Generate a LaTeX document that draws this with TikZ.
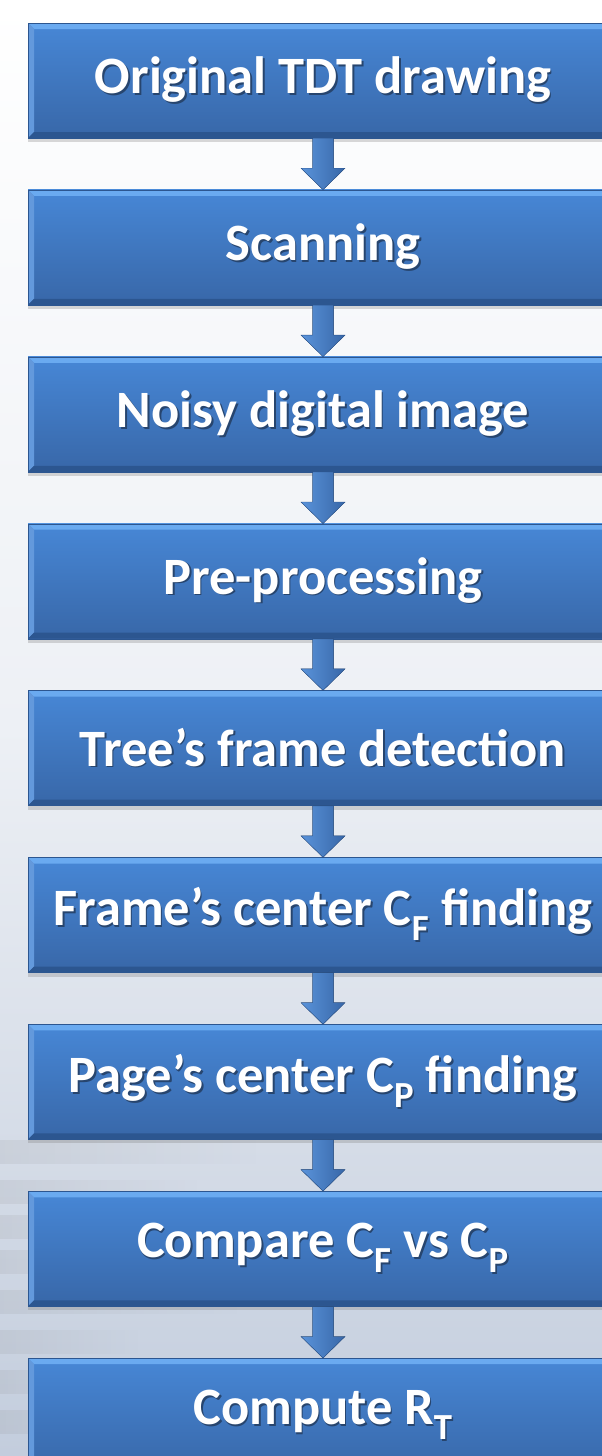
\documentclass[tikz,border=0pt]{standalone}
\usepackage{fontspec}
\setmainfont{Carlito}
\usepackage{tikz}
\usetikzlibrary{
    calc,
    positioning,
    shadows,
    fadings
}

\definecolor{boxtop}{HTML}{4787D6}
\definecolor{boxbot}{HTML}{3867A8}
\definecolor{bevlight}{HTML}{6AAAF0}
\definecolor{bevdark}{HTML}{2C5690}
\definecolor{bgbot}{HTML}{C3CDDD}
\definecolor{txtshadow}{HTML}{27456E}

\newcommand\shadowed[1]{\leavevmode\rlap{\kern1.6pt\raisebox{-1.6pt}{\textcolor{txtshadow}{#1}}}#1}
\newcommand\flowarrow[2]{%
    \fill[arrowfill]
    ([xshift=-10.5pt]#1.south) -- ([xshift=-10.5pt,yshift=-30pt]#1.south)
    -- ([xshift=-22pt,yshift=-30pt]#1.south) -- (#2.north)
    -- ([xshift=22pt,yshift=-30pt]#1.south) -- ([xshift=10.5pt,yshift=-30pt]#1.south)
    -- ([xshift=10.5pt]#1.south) -- cycle;
}

\tikzset{
    stepbox/.style={
        rectangle, minimum width=590pt, minimum height=115pt, inner sep=0pt,
        top color=boxtop, bottom color=boxbot, draw=bevdark, line width=0.4pt,
        text=white, font=\fontsize{52.5}{60}\selectfont\bfseries,
        drop shadow={shadow xshift=0pt, shadow yshift=-4pt, opacity=0.3},
        path picture={
            \fill[bevlight] (path picture bounding box.north west)
            -- (path picture bounding box.north east)
            -- ([xshift=-6pt,yshift=-6pt]path picture bounding box.north east)
            -- ([xshift=6pt,yshift=-6pt]path picture bounding box.north west) -- cycle;
            \fill[boxtop!85!white] (path picture bounding box.north west)
            -- ([xshift=6pt,yshift=-6pt]path picture bounding box.north west)
            -- ([xshift=6pt,yshift=6pt]path picture bounding box.south west)
            -- (path picture bounding box.south west) -- cycle;
            \fill[bevdark] (path picture bounding box.south west)
            -- ([xshift=6pt,yshift=6pt]path picture bounding box.south west)
            -- ([xshift=-6pt,yshift=6pt]path picture bounding box.south east)
            -- (path picture bounding box.south east) -- cycle;
        }
    },
    arrowfill/.style={
        left color=boxtop!90!white, right color=boxbot, draw=bevdark, line width=0.4pt
    },
    streak/.style={fill=black!50, opacity=0.12, path fading=east}
}

\begin{document}
\begin{tikzpicture}[x=1pt, y=-1pt]
    % background
    \useasboundingbox (0, 0) rectangle (602, 1456);
    \shade[top color=white, bottom color=bgbot, middle color=white!70!bgbot]
    (0, 0) rectangle (602, 1456);
    \begin{scope}
        \clip (0, 0) rectangle (602, 1456);
        \foreach \y/\w in {1140/260, 1180/200, 1215/150, 1250/110, 1290/240, 1330/140, 1370/90, 1410/120} {
            \fill[streak] (0, \y) rectangle (\w, \y + 24);
        }

        % steps
        \node[stepbox] (orig) at (323, 80.5) {\shadowed{Original TDT drawing}};
        \node[stepbox, below=51.5pt of orig] (scan) {\shadowed{Scanning}};
        \node[stepbox, below=51.5pt of scan] (noisy) {\shadowed{Noisy digital image}};
        \node[stepbox, below=51.5pt of noisy] (pre) {\shadowed{Pre-processing}};
        \node[stepbox, below=51.5pt of pre] (frame) {\shadowed{Tree’s frame detection}};
        \node[stepbox, below=51.5pt of frame] (cf) {\shadowed{Frame’s center C\textsubscript{F} finding}};
        \node[stepbox, below=51.5pt of cf] (cp) {\shadowed{Page’s center C\textsubscript{P} finding}};
        \node[stepbox, below=51.5pt of cp] (cmp) {\shadowed{Compare C\textsubscript{F} vs C\textsubscript{P}}};
        \node[stepbox, below=51.5pt of cmp] (rt) {\shadowed{Compute R\textsubscript{T}}};

        % arrows
        \flowarrow{orig}{scan}
        \flowarrow{scan}{noisy}
        \flowarrow{noisy}{pre}
        \flowarrow{pre}{frame}
        \flowarrow{frame}{cf}
        \flowarrow{cf}{cp}
        \flowarrow{cp}{cmp}
        \flowarrow{cmp}{rt}
    \end{scope}
\end{tikzpicture}
\end{document}
